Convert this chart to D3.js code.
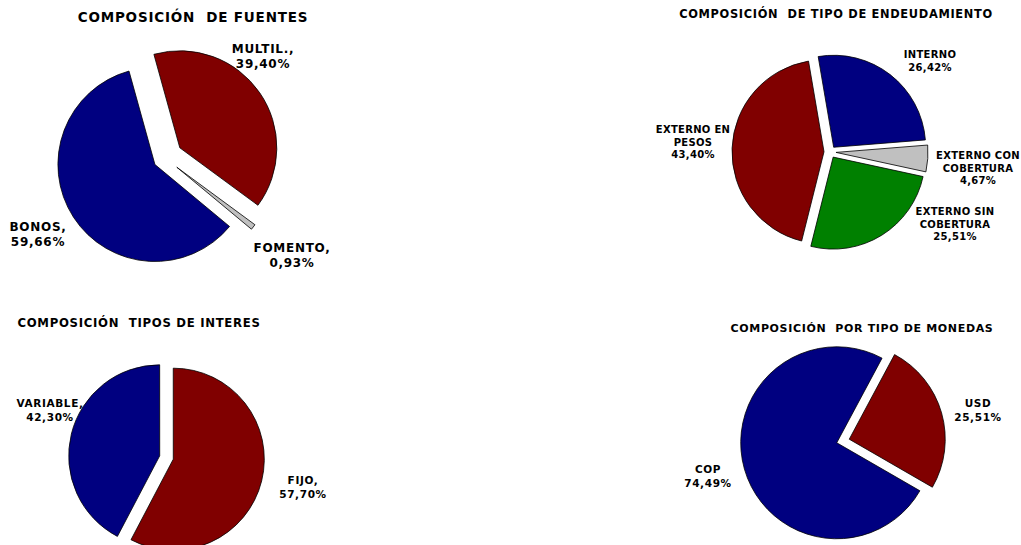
<!DOCTYPE html>
<html>
<head>
<meta charset="utf-8">
<script src="https://cdn.jsdelivr.net/npm/d3@7"></script>
<style>
  html, body { margin: 0; padding: 0; background: #fff; }
  svg text { font-family: "DejaVu Sans", Verdana, sans-serif; font-weight: bold; fill: #000; letter-spacing: 0.06em; white-space: pre; }
</style>
</head>
<body>
<svg id="chart" width="1021" height="545"></svg>
<script>
// Composición de fuentes
const fuentesCats = ["BONOS", "MULTIL.", "FOMENTO"];
const fuentesVals = [59.66, 39.40, 0.93];

// Composición de tipo de endeudamiento
const endeudCats = ["INTERNO", "EXTERNO CON COBERTURA", "EXTERNO SIN COBERTURA", "EXTERNO EN PESOS"];
const endeudVals = [26.42, 4.67, 25.51, 43.40];

// Composición tipos de interés
const interesCats = ["VARIABLE", "FIJO"];
const interesVals = [42.30, 57.70];

// Composición por tipo de monedas
const monedaCats = ["COP", "USD"];
const monedaVals = [74.49, 25.51];

const NAVY = "#000080", MAROON = "#800000", SILVER = "#c0c0c0", GREEN = "#008000";
const fmt = v => d3.format(".2f")(v).replace(".", ",") + "%";
const rad = deg => deg * Math.PI / 180;

const svg = d3.select("#chart");

function drawPie(cfg) {
  const data = cfg.values.map((v, i) => ({ name: cfg.cats[i], value: v, color: cfg.colors[i], explode: cfg.explode[i] }));
  const pie = d3.pie().sort(null).value(d => d.value)
    .startAngle(rad(cfg.start)).endAngle(rad(cfg.start) + 2 * Math.PI);
  const arc = d3.arc().innerRadius(0).outerRadius(cfg.r);
  const g = svg.append("g").attr("transform", `translate(${cfg.cx},${cfg.cy})`);
  g.selectAll("path").data(pie(data)).join("path")
    .attr("d", arc)
    .attr("transform", d => {
      const m = (d.startAngle + d.endAngle) / 2;
      const e = d.data.explode;
      return `translate(${e * Math.sin(m)},${-e * Math.cos(m)})`;
    })
    .attr("fill", d => d.data.color)
    .attr("stroke", "#000")
    .attr("stroke-width", 0.8)
    .attr("stroke-linejoin", "round");

  svg.append("text")
    .attr("x", cfg.title.x).attr("y", cfg.title.y)
    .attr("text-anchor", "middle")
    .attr("font-size", cfg.title.size)
    .text(cfg.title.text);

  cfg.labels.forEach((lb, i) => {
    const t = svg.append("text")
      .attr("text-anchor", "middle")
      .attr("font-size", cfg.labelSize)
      .style("letter-spacing", cfg.labelSpacing || null);
    const lines = lb.lines.concat([fmt(cfg.values[i])]);
    lines.forEach((ln, k) => {
      t.append("tspan").attr("x", lb.x).attr("y", lb.y + k * cfg.lineH).text(ln);
    });
  });
}

drawPie({
  cats: fuentesCats, values: fuentesVals,
  colors: [NAVY, MAROON, SILVER],
  explode: [12, 18, 15],
  cx: 165, cy: 158, r: 97, start: 129.7,
  title: { text: "COMPOSICIÓN  DE FUENTES", x: 193, y: 22, size: 13.5 },
  labelSize: 12, lineH: 14.5,
  labels: [
    { lines: ["BONOS,"], x: 38, y: 231 },
    { lines: ["MULTIL.,"], x: 263, y: 53 },
    { lines: ["FOMENTO,"], x: 292, y: 252 }
  ]
});

drawPie({
  cats: endeudCats, values: endeudVals,
  colors: [NAVY, SILVER, GREEN, MAROON],
  explode: [6, 6, 6, 6],
  cx: 830, cy: 152, r: 92, start: -9.7,
  title: { text: "COMPOSICIÓN  DE TIPO DE ENDEUDAMIENTO", x: 836, y: 18, size: 11.4 },
  labelSize: 10, lineH: 12.5, labelSpacing: "0.03em",
  labels: [
    { lines: ["INTERNO"], x: 930, y: 58 },
    { lines: ["EXTERNO CON", "COBERTURA"], x: 978, y: 159 },
    { lines: ["EXTERNO SIN", "COBERTURA"], x: 955, y: 215 },
    { lines: ["EXTERNO EN", "PESOS"], x: 693, y: 133 }
  ]
});

drawPie({
  cats: interesCats, values: interesVals,
  colors: [NAVY, MAROON],
  explode: [7, 7],
  cx: 166.5, cy: 457.5, r: 91, start: 207.7,
  title: { text: "COMPOSICIÓN  TIPOS DE INTERES", x: 139, y: 327, size: 11.7 },
  labelSize: 10.5, lineH: 13.5,
  labels: [
    { lines: ["VARIABLE,"], x: 50, y: 407 },
    { lines: ["FIJO,"], x: 303, y: 484 }
  ]
});

drawPie({
  cats: monedaCats, values: monedaVals,
  colors: [NAVY, MAROON],
  explode: [6.5, 6.5],
  cx: 843, cy: 441, r: 96, start: 120,
  title: { text: "COMPOSICIÓN  POR TIPO DE MONEDAS", x: 862, y: 332, size: 11 },
  labelSize: 10.5, lineH: 14,
  labels: [
    { lines: ["COP"], x: 708, y: 473 },
    { lines: ["USD"], x: 978, y: 407 }
  ]
});
</script>
</body>
</html>
